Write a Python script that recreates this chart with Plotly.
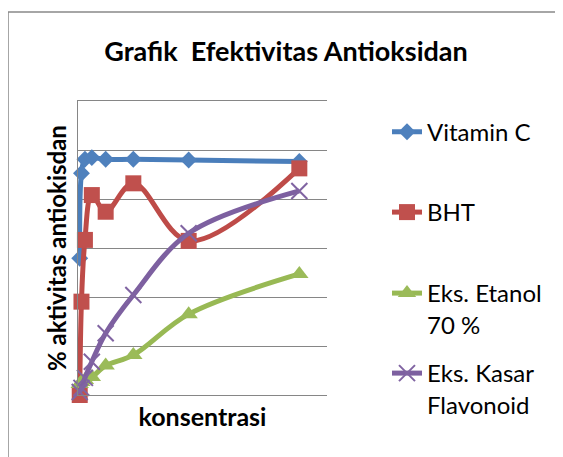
import plotly.graph_objects as go

# Data
konsentrasi = [1.5625, 3.125, 6.25, 12.5, 25, 50, 100, 200]
vitamin_c = [55.8, 90.5, 96.2, 96.9, 96.2, 96.2, 95.9, 95.3]
bht = [0.0, 38.1, 63.3, 81.6, 74.8, 86.4, 62.9, 92.5]
eks_etanol = [4.5, 5.3, 6.1, 7.3, 12.0, 16.3, 33.0, 49.4]
eks_kasar = [1.2, 2.9, 7.0, 13.6, 25.2, 40.8, 66.0, 83.3]

series_names = ["Vitamin C", "BHT", "Eks. Etanol<br>70 %", "Eks. Kasar<br>Flavonoid"]
title_text = "Grafik\u00a0 Efektivitas Antioksidan"
x_title = "konsentrasi"
y_title = "% aktivitas antiokisdan"

FONT = "Lato"
OFF = 8  # default page body margin
W, H = 563 - OFF, 457 - OFF
PW, PH = 249, 294
ML, MT = 78 - OFF, 101 - OFF
MR, MB = W - ML - PW, H - MT - PH

def px_x(p):  # reference page pixel -> paper
    return (p - OFF - ML) / PW

def px_y(p):
    return (MT + PH - (p - OFF)) / PH

styles = [
    dict(color="#4A7EBB", mcolor="#4F81BD", symbol="diamond", size=13),
    dict(color="#BE4B48", mcolor="#C0504D", symbol="square", size=16),
    dict(color="#98B954", mcolor="#9BBB59", symbol="triangle-up", size=16),
    dict(color="#7D60A0", mcolor="#8064A2", symbol="x-thin", size=16),
]
data = [vitamin_c, bht, eks_etanol, eks_kasar]

fig = go.Figure()
legend_ids = ["legend", "legend2", "legend3", "legend4"]
for name, vals, st, lid in zip(series_names, data, styles, legend_ids):
    marker = dict(symbol=st["symbol"], size=st["size"], color=st["mcolor"])
    if st["symbol"] == "x-thin":
        marker["line"] = dict(color=st["mcolor"], width=2)
    else:
        marker["line"] = dict(width=0)
    fig.add_trace(go.Scatter(
        x=konsentrasi, y=vals, name=name, mode="lines+markers",
        line=dict(color=st["color"], width=5, shape="spline", smoothing=1),
        marker=marker, cliponaxis=False, legend=lid,
    ))

legend_centers = [131.7, 212, 293, 373]
legend_common = dict(
    font=dict(family=FONT, size=24, color="#000000"),
    bgcolor="rgba(0,0,0,0)", borderwidth=0, itemwidth=30,
    x=px_x(387), xanchor="left", yanchor="top", valign="top",
    itemclick=False, itemdoubleclick=False,
)
layout_legends = {}
for lid, cy in zip(legend_ids, legend_centers):
    d = dict(legend_common)
    d["y"] = px_y(cy - 22)
    layout_legends[lid] = d

fig.update_layout(
    width=W, height=H,
    margin=dict(l=ML, r=MR, t=MT, b=MB, pad=0),
    paper_bgcolor="white", plot_bgcolor="white",
    showlegend=True,
    title=dict(text=title_text, font=dict(family=FONT, size=27, color="#000000", weight="bold"),
               x=(286 - OFF) / W, xanchor="center", xref="container",
               y=1 - (52 - OFF) / H, yanchor="middle", yref="container"),
    xaxis=dict(range=[0, 225], showgrid=False, zeroline=False, showticklabels=False,
               ticks="", showline=True, mirror=True, linecolor="#868686", linewidth=1,
               title=dict(text=x_title, standoff=13,
                          font=dict(family=FONT, size=25, color="#000000", weight="bold"))),
    yaxis=dict(range=[0, 120], dtick=20, showgrid=True, gridcolor="#868686", gridwidth=1,
               zeroline=False, showticklabels=False, ticks="",
               showline=True, linecolor="#868686", linewidth=1, mirror=False,
               title=dict(text=y_title, standoff=3,
                          font=dict(family=FONT, size=24, color="#000000", weight="bold"))),
    shapes=[dict(type="path", xref="paper", yref="paper",
                 path=f"M {px_x(8)},{px_y(470)} L {px_x(8)},{px_y(12)} L {px_x(580)},{px_y(12)}",
                 line=dict(color="#898989", width=1.5), layer="below")],
    **layout_legends,
)

fig.write_html("out.html")
